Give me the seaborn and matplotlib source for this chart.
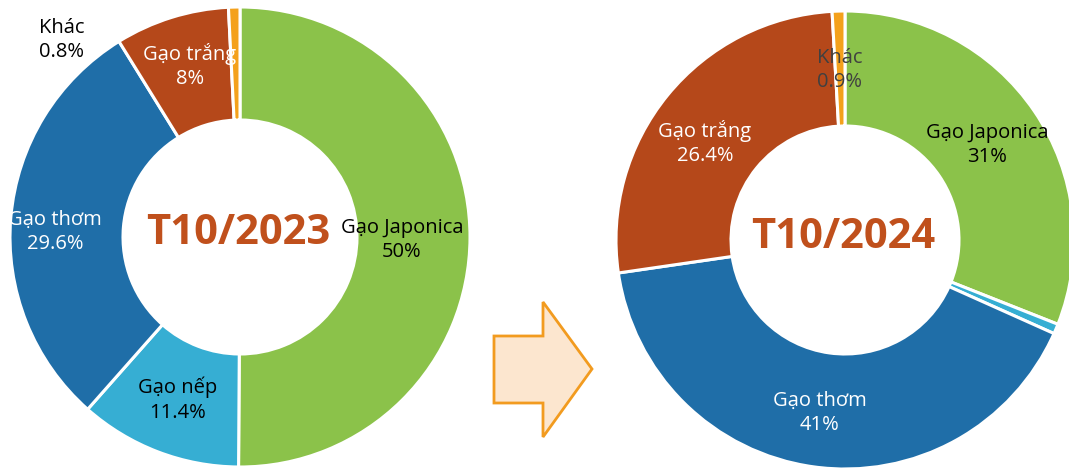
#!/usr/bin/env python3
"""Rice export structure, T10/2023 vs T10/2024, as two donuts."""

import matplotlib

matplotlib.use("Agg")
import matplotlib.pyplot as plt
import seaborn as sns
from matplotlib.patches import Polygon

CATEGORIES = ["Gạo Japonica", "Gạo nếp", "Gạo thơm", "Gạo trắng", "Khác"]
SHARE_2023 = [50, 11.4, 29.6, 8, 0.8]
SHARE_2024 = [31, 0.7, 41, 26.4, 0.9]
PCT_2023 = ["50%", "11.4%", "29.6%", "8%", "0.8%"]
PCT_2024 = ["31%", "", "41%", "26.4%", "0.9%"]
TITLES = ["T10/2023", "T10/2024"]

COLORS = ["#8BC24A", "#36AED3", "#1F6EA8", "#B5481A", "#F4A11C"]
TITLE_COLOR = "#C0501C"

W, H = 1069, 468

sns.set_theme(style="white")
plt.rcParams["font.family"] = ["Open Sans", "DejaVu Sans"]

fig = plt.figure(figsize=(W / 100, H / 100), dpi=100)
ax = fig.add_axes([0, 0, 1, 1])


def donut(values, center, radius, hole):
    # y axis is inverted, so counterclock=True draws clockwise on screen
    ax.pie(
        values,
        colors=COLORS,
        center=center,
        radius=radius,
        startangle=-90,
        counterclock=True,
        wedgeprops=dict(width=radius - hole, edgecolor="white", linewidth=2.2),
        frame=True,
    )


donut(SHARE_2023, (240, 237), 230, 117)
donut(SHARE_2024, (845, 240), 229, 114)
ax.set_xlim(0, W)
ax.set_ylim(H, 0)
ax.set_aspect("equal")
ax.axis("off")

# label layout: (category index, x, y, colour)
left_labels = [
    (0, 402, 240, "black"),
    (1, 178, 400, "black"),
    (2, 55, 232, "white"),
    (3, 190, 66, "white"),
    (4, 62, 40, "black"),
]
right_labels = [
    (0, 987, 145, "black"),
    (2, 820, 413, "white"),
    (3, 705, 143, "white"),
    (4, 840, 70, "#404040"),
]

for labels, pcts in [(left_labels, PCT_2023), (right_labels, PCT_2024)]:
    for i, x, y, color in labels:
        ax.text(x, y, f"{CATEGORIES[i]}\n{pcts[i]}", ha="center", va="center",
                fontsize=14.5, color=color, linespacing=1.3)

ax.text(238, 233, TITLES[0], ha="center", va="center", fontsize=30,
        fontweight="bold", color=TITLE_COLOR)
ax.text(843, 237, TITLES[1], ha="center", va="center", fontsize=30,
        fontweight="bold", color=TITLE_COLOR)

arrow = Polygon(
    [(494, 336), (543, 336), (543, 302), (592, 369), (543, 437), (543, 403), (494, 403)],
    closed=True, facecolor="#FCE6CF", edgecolor="#F29B1F", linewidth=2,
)
ax.add_patch(arrow)

fig.savefig("out.png", dpi=100)
